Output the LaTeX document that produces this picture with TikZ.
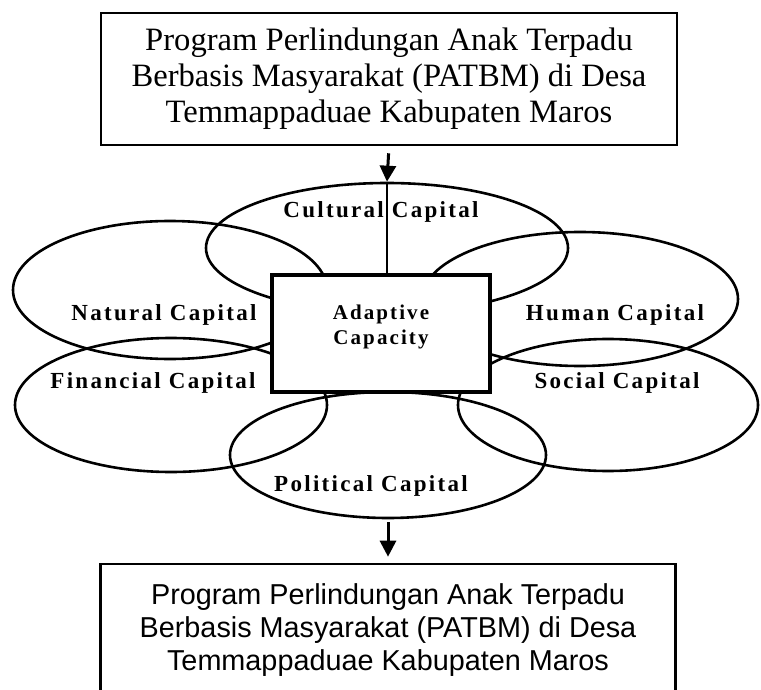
\documentclass[tikz,border=0pt]{standalone}
\usepackage{fontspec}
\setmainfont{Liberation Serif}
\newfontfamily\capfont[LetterSpace=10]{Liberation Serif}
\newfontfamily\progsans{Liberation Sans}
\usetikzlibrary{shapes.geometric, arrows.meta, positioning}
\tikzset{>={Triangle}}

\begin{document}
\begin{tikzpicture}[
      x=0.5pt, y=-0.5pt,
      capital/.style={ellipse, draw, line width=1.3pt, inner sep=0pt},
      lab/.style={font=\capfont\bfseries\fontsize{11.5}{12.5}\selectfont, align=center, inner sep=0pt},
      prog/.style={rectangle, draw, line width=1.3pt, align=center, inner sep=0pt},
      arrow/.style={-{Triangle[length=8pt, width=8pt]}, line width=1.5pt}
    ]
    \useasboundingbox (0,0) rectangle (761,690);
    \clip (0,0) rectangle (761,690);

    % top program box
    \node[prog, minimum width=288pt, minimum height=66pt, font=\fontsize{16.3}{18}\selectfont] (topprog) at (389,79) {Program Perlindungan Anak Terpadu\\Berbasis Masyarakat (PATBM) di Desa\\Temmappaduae Kabupaten Maros};

    % capitals
    \node[capital, minimum width=181pt, minimum height=65pt] (cultural) at (387,248) {};
    \node[capital, minimum width=157pt, minimum height=69pt] (natural) at (170,290) {};
    \node[capital, minimum width=158pt, minimum height=67pt] (human) at (580,299) {};
    \node[capital, minimum width=156pt, minimum height=67pt] (financial) at (171,405) {};
    \node[capital, minimum width=150pt, minimum height=66pt] (social) at (608,405) {};
    \node[capital, minimum width=158pt, minimum height=63pt] (political) at (388,455) {};

    % adaptive capacity
    \draw[line width=0.9pt] (cultural.north) -- ++(0,100);
    \node[rectangle, draw, fill=white, line width=1.6pt, minimum width=109pt, minimum height=58.5pt] (adapt) at (381,333.5) {};
    \node[lab, font=\capfont\bfseries\fontsize{10.5}{12.5}\selectfont] (adaptlab) at (381,327) {Adaptive\\Capacity};

    \node[lab] (culturallab) at (381,212) {Cultural Capital};
    \node[lab] (naturallab) at (164,315) {Natural Capital};
    \node[lab] (financiallab) at (153,383) {Financial Capital};
    \node[lab] (humanlab) at (615,315) {Human Capital};
    \node[lab] (sociallab) at (617,383) {Social Capital};
    \node[lab] (politicallab) at (371,486) {Political Capital};

    % bottom program box
    \node[prog, minimum width=287.5pt, minimum height=66pt, font=\progsans\fontsize{14.4}{16.5}\selectfont] (botprog) at (388,630) {Program Perlindungan Anak Terpadu\\Berbasis Masyarakat (PATBM) di Desa\\Temmappaduae Kabupaten Maros};

    %%% FLOW
    \draw[arrow, shorten <=3.5pt] (topprog.south) -- (cultural.north);
    \draw[arrow, shorten <=1.5pt, shorten >=3pt] (political.south) -- (botprog.north);
    \end{tikzpicture}
\end{document}
